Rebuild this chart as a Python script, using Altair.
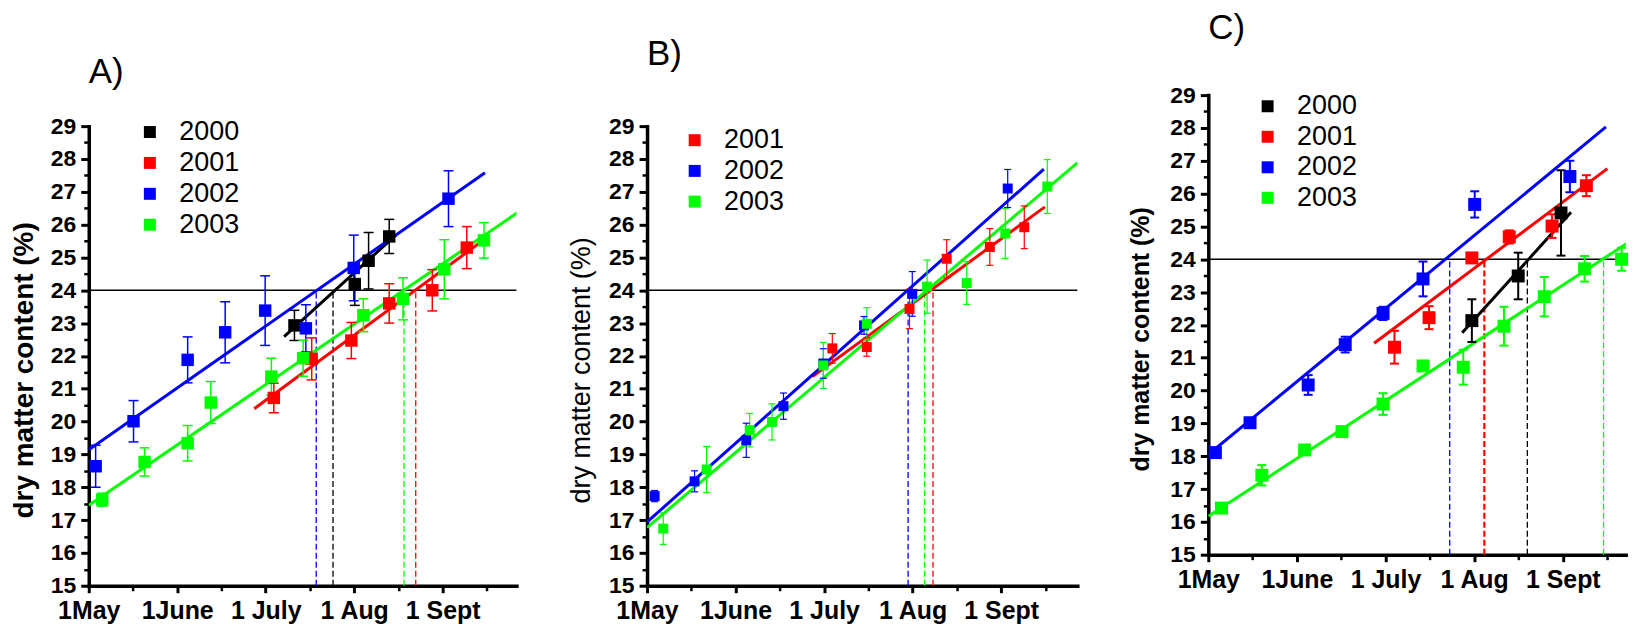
import json
import altair as alt
import pandas as pd

FONT = "Liberation Sans"
YEARS = ["2000", "2001", "2002", "2003"]
YEAR_COLORS = ["#000000", "#ff0000", "#0000ff", "#00ff00"]
X_TICK_LABELS = ["1May", "1June", "1 July", "1 Aug", "1 Sept"]
X_MAJOR = [0, 1, 2, 3, 4]
X_MINOR = [0.5, 1.5, 2.5, 3.5, 4.5]
Y_MAJOR = list(range(15, 30))
Y_MINOR = [v + 0.5 for v in range(15, 29)]
Y_DOMAIN = [15, 29]
Y_TITLE = "dry matter content (%)"
THRESHOLD = [24]
PANEL_LABELS = ["A)", "B)", "C)"]

# x values are months after 1 May (1 May = 0, 1 June = 1, ...)
# ---------------- Panel A ----------------
A_X_2000 = [2.325, 3.007, 3.163, 3.396]
A_Y_2000 = [22.93, 24.19, 24.90, 25.64]
A_E_2000 = [0.46, 0.65, 0.86, 0.52]
A_X_2001 = [2.092, 2.520, 2.968, 3.396, 3.883, 4.273]
A_Y_2001 = [20.72, 21.91, 22.47, 23.60, 24.00, 25.30]
A_E_2001 = [0.45, 0.64, 0.55, 0.60, 0.63, 0.64]
A_X_2002 = [0.078, 0.506, 1.118, 1.542, 1.994, 2.454, 2.995, 4.066]
A_Y_2002 = [18.64, 20.01, 21.88, 22.72, 23.38, 22.84, 24.68, 26.79]
A_E_2002 = [0.64, 0.63, 0.70, 0.93, 1.06, 0.72, 1.00, 0.85]
A_X_2003 = [0.152, 0.631, 1.118, 1.379, 2.064, 2.423, 3.104, 3.552, 4.019, 4.467]
A_Y_2003 = [17.62, 18.77, 19.34, 20.58, 21.37, 21.93, 23.24, 23.74, 24.64, 25.52]
A_E_2003 = [0.20, 0.43, 0.54, 0.64, 0.56, 0.55, 0.50, 0.64, 0.90, 0.54]
# fitted lines: x0, y0, x1, y1
A_FIT_2000 = [2.208, 22.59, 3.474, 25.69]
A_FIT_2001 = [1.870, 20.39, 4.487, 25.58]
A_FIT_2002 = [0.0, 19.14, 4.479, 27.58]
A_FIT_2003 = [0.0, 17.45, 4.849, 26.37]
A_CROSS_YEARS = ["2002", "2000", "2003", "2001"]
A_CROSS_X = [2.571, 2.761, 3.564, 3.696]

# ---------------- Panel B ----------------
B_X_2001 = [2.093, 2.482, 2.965, 3.385, 3.872, 4.261]
B_Y_2001 = [22.23, 22.27, 23.43, 24.96, 25.32, 25.92]
B_E_2001 = [0.45, 0.28, 0.60, 0.58, 0.56, 0.65]
B_X_2002 = [0.086, 0.537, 1.121, 1.541, 1.992, 2.451, 2.996, 4.074]
B_Y_2002 = [17.73, 18.18, 19.43, 20.47, 21.77, 22.93, 23.89, 27.10]
B_E_2002 = [0.17, 0.32, 0.52, 0.40, 0.45, 0.27, 0.68, 0.58]
B_X_2003 = [0.183, 0.673, 1.160, 1.412, 1.992, 2.482, 3.163, 3.611, 4.047, 4.521]
B_Y_2003 = [16.74, 18.54, 19.74, 19.99, 21.71, 22.98, 24.11, 24.22, 25.73, 27.16]
B_E_2003 = [0.48, 0.70, 0.51, 0.55, 0.70, 0.49, 0.81, 0.65, 0.76, 0.82]
B_FIT_2001 = [1.868, 21.37, 4.494, 26.54]
B_FIT_2002 = [0.0, 16.94, 4.482, 27.69]
B_FIT_2003 = [0.0, 16.77, 4.864, 27.89]
B_CROSS_YEARS = ["2002", "2003", "2001"]
B_CROSS_X = [2.949, 3.136, 3.230]

# ---------------- Panel C ----------------
C_X_2000 = [2.974, 3.497, 3.980]
C_Y_2000 = [22.13, 23.49, 25.41]
C_E_2000 = [0.65, 0.71, 1.30]
C_X_2001 = [2.101, 2.491, 2.974, 3.396, 3.879, 4.266]
C_Y_2001 = [21.32, 22.22, 24.04, 24.68, 25.01, 26.24]
C_E_2001 = [0.50, 0.35, 0.15, 0.20, 0.36, 0.32]
C_X_2002 = [0.080, 0.471, 1.127, 1.545, 1.972, 2.423, 3.006, 4.080]
C_Y_2002 = [18.11, 19.02, 20.17, 21.40, 22.35, 23.40, 25.67, 26.52]
C_E_2002 = [0.10, 0.10, 0.30, 0.24, 0.20, 0.53, 0.40, 0.48]
C_X_2003 = [0.149, 0.604, 1.087, 1.509, 1.972, 2.423, 2.877, 3.336, 3.791, 4.246, 4.664]
C_Y_2003 = [16.42, 17.42, 18.19, 18.75, 19.59, 20.75, 20.71, 21.96, 22.86, 23.71, 24.00]
C_E_2003 = [0.08, 0.31, 0.10, 0.12, 0.33, 0.12, 0.53, 0.59, 0.60, 0.39, 0.35]
C_FIT_2000 = [2.865, 21.76, 4.093, 25.43]
C_FIT_2001 = [1.871, 21.44, 4.503, 26.76]
C_FIT_2002 = [0.0, 18.05, 4.487, 28.03]
C_FIT_2003 = [0.0, 16.17, 4.829, 24.67]
C_CROSS_YEARS = ["2002", "2001", "2000", "2003"]
C_CROSS_X = [2.724, 3.115, 3.600, 4.460]
C_CROSS_W = [1.3, 2.2, 1.3, 1.3]

COLOR_OF = dict(zip(YEARS, YEAR_COLORS))


def points_table(series):
    rows = []
    for year, (xs, ys, es) in series.items():
        for x, y, e in zip(xs, ys, es):
            rows.append({"year": year, "x": x, "y": y, "lo": y - e, "hi": y + e})
    return pd.DataFrame(rows)


def fits_table(fits):
    rows = []
    for year, (x0, y0, x1, y1) in fits.items():
        rows.append({"year": year, "x": x0, "y": y0})
        rows.append({"year": year, "x": x1, "y": y1})
    return pd.DataFrame(rows)


def cross_table(years, xs, widths):
    return pd.DataFrame({"year": years, "x": xs, "w": widths,
                         "y0": [Y_DOMAIN[0]] * len(xs), "y1": [THRESHOLD[0]] * len(xs)})


label_expr = json.dumps(X_TICK_LABELS) + "[round(datum.value)]"


def panel(series, fits, cross, years, xmax, width, height, label, label_y, label_size,
          ytitle_size, ytitle_weight, ytitle_x, ytitle_y, legend_x, legend_y, row_pad,
          sq_size, cap, ebw, top_space, bottom_space):
    cscale = alt.Scale(domain=years, range=[COLOR_OF[y] for y in years])
    xs = alt.Scale(domain=[0, xmax], nice=False, zero=False)
    ys = alt.Scale(domain=Y_DOMAIN, nice=False, zero=False)
    col = alt.Color("year:N", scale=cscale, legend=None)

    major_x = alt.Axis(orient="bottom", values=X_MAJOR, labelExpr=label_expr, tickSize=7, tickWidth=3,
                       tickColor="black", domainWidth=3.5, domainColor="black", domainCap="square",
                       labelFont=FONT, labelFontSize=25, labelFontWeight="bold", labelColor="black",
                       labelPadding=6, labelFlush=False, labelOverlap=False, grid=False, title=None)
    minor_x = alt.Axis(orient="bottom", values=X_MINOR, labels=False, tickSize=5, tickWidth=2.5,
                       tickColor="black", domain=False, grid=False, title=None)
    major_y = alt.Axis(orient="left", values=Y_MAJOR, format="d", tickSize=8, tickWidth=3,
                       tickColor="black", domainWidth=3.5, domainColor="black", domainCap="square",
                       labelFont=FONT, labelFontSize=23, labelFontWeight="bold", labelColor="black",
                       labelPadding=5, labelOverlap=False, grid=False, title=None)
    minor_y = alt.Axis(orient="left", values=Y_MINOR, labels=False, tickSize=5, tickWidth=2.5,
                       tickColor="black", domain=False, grid=False, title=None)

    pts = points_table(series)
    fit_df = fits_table(fits)
    cross_df = cross_table(*cross)

    hline = alt.Chart(pd.DataFrame({"v": THRESHOLD})).mark_rule(color="black", strokeWidth=1.4).encode(
        y=alt.Y("v:Q", scale=ys, axis=minor_y))
    drops = alt.Chart(cross_df).mark_rule(strokeDash=[6, 3]).encode(
        x=alt.X("x:Q", scale=xs, axis=minor_x),
        y=alt.Y("y0:Q", scale=ys, axis=None), y2="y1:Q",
        strokeWidth=alt.StrokeWidth("w:Q", scale=None, legend=None),
        color=col)
    lines = alt.Chart(fit_df).mark_line(strokeWidth=3, clip=True).encode(
        x=alt.X("x:Q", scale=xs, axis=None), y=alt.Y("y:Q", scale=ys, axis=None), color=col)
    bars = alt.Chart(pts).mark_rule(strokeWidth=ebw).encode(
        x=alt.X("x:Q", scale=xs, axis=None), y=alt.Y("lo:Q", scale=ys, axis=None), y2="hi:Q", color=col)
    cap_lo = alt.Chart(pts).mark_tick(orient="horizontal", size=cap, thickness=ebw, opacity=1).encode(
        x=alt.X("x:Q", scale=xs, axis=None), y=alt.Y("lo:Q", scale=ys, axis=None), color=col)
    cap_hi = alt.Chart(pts).mark_tick(orient="horizontal", size=cap, thickness=ebw, opacity=1).encode(
        x=alt.X("x:Q", scale=xs, axis=None), y=alt.Y("hi:Q", scale=ys, axis=None), color=col)
    legend = alt.Legend(orient="none", legendX=legend_x, legendY=legend_y, title=None,
                        symbolType="square", symbolSize=144, symbolStrokeWidth=0,
                        labelFont=FONT, labelFontSize=27, labelColor="black", labelOffset=16,
                        rowPadding=row_pad, padding=0)
    squares = alt.Chart(pts).mark_square(size=sq_size, opacity=1).encode(
        x=alt.X("x:Q", scale=xs, axis=major_x), y=alt.Y("y:Q", scale=ys, axis=major_y),
        color=alt.Color("year:N", scale=cscale, legend=legend))
    tag = alt.Chart(pd.DataFrame({"t": [label]})).mark_text(
        align="left", baseline="alphabetic", font=FONT, fontSize=label_size, color="black").encode(
        text="t:N", x=alt.value(0), y=alt.value(label_y))
    ytitle = alt.Chart(pd.DataFrame({"t": [Y_TITLE]})).mark_text(
        angle=270, align="center", baseline="middle", font=FONT, fontSize=ytitle_size,
        fontWeight=ytitle_weight, color="black").encode(
        text="t:N", x=alt.value(ytitle_x), y=alt.value(ytitle_y))
    spacer_top = alt.Chart(pd.DataFrame({"t": [label]})).mark_rule(color="white", strokeWidth=0.5).encode(
        x=alt.value(0), y=alt.value(-top_space), y2=alt.value(-top_space + 1))
    layers = [hline, drops, lines, bars, cap_lo, cap_hi, squares, tag, ytitle, spacer_top]
    if bottom_space:
        layers.append(alt.Chart(pd.DataFrame({"t": [label]})).mark_rule(color="white", strokeWidth=0.5).encode(
            x=alt.value(0), y=alt.value(height + bottom_space - 1), y2=alt.value(height + bottom_space)))

    return alt.layer(*layers).resolve_axis(x="independent", y="independent").resolve_legend(
        color="independent").properties(width=width, height=height)


pA = panel(
    {"2000": (A_X_2000, A_Y_2000, A_E_2000), "2001": (A_X_2001, A_Y_2001, A_E_2001),
     "2002": (A_X_2002, A_Y_2002, A_E_2002), "2003": (A_X_2003, A_Y_2003, A_E_2003)},
    {"2000": A_FIT_2000, "2001": A_FIT_2001, "2002": A_FIT_2002, "2003": A_FIT_2003},
    (A_CROSS_YEARS, A_CROSS_X, [1.3] * len(A_CROSS_X)),
    ["2000", "2001", "2002", "2003"], 4.834, 429, 461, PANEL_LABELS[0], -43.3, 35,
    28, "bold", -64, 245, 47.8, -7.6, 3.0, 156, 10, 1.5, 115.3, 0)

pB = panel(
    {"2001": (B_X_2001, B_Y_2001, B_E_2001), "2002": (B_X_2002, B_Y_2002, B_E_2002),
     "2003": (B_X_2003, B_Y_2003, B_E_2003)},
    {"2001": B_FIT_2001, "2002": B_FIT_2002, "2003": B_FIT_2003},
    (B_CROSS_YEARS, B_CROSS_X, [1.3] * len(B_CROSS_X)),
    ["2001", "2002", "2003"], 4.86, 431.6, 461, PANEL_LABELS[1], -61, 35,
    27, "normal", -65, 245, 34.3, 0.6, 2.8, 100, 7, 1.2, 115.3, 0)

pC = panel(
    {"2000": (C_X_2000, C_Y_2000, C_E_2000), "2001": (C_X_2001, C_Y_2001, C_E_2001),
     "2002": (C_X_2002, C_Y_2002, C_E_2002), "2003": (C_X_2003, C_Y_2003, C_E_2003)},
    {"2000": C_FIT_2000, "2001": C_FIT_2001, "2002": C_FIT_2002, "2003": C_FIT_2003},
    (C_CROSS_YEARS, C_CROSS_X, C_CROSS_W),
    ["2000", "2001", "2002", "2003"], 4.71, 418.7, 461, PANEL_LABELS[2], -56.3, 35,
    25, "bold", -67, 245, 46, -2.3, 2.6, 169, 9, 2, 85.3, 100)

chart = alt.hconcat(pA, pB, pC, spacing=51, center=True).resolve_scale(
    x="independent", y="independent", color="independent").resolve_legend(
    color="independent").properties(
    padding={"left": 2, "top": 0, "right": 0, "bottom": 0}, background="white").configure_view(stroke=None)

chart.save("out.html", embed_options={"renderer": "svg", "actions": False})
